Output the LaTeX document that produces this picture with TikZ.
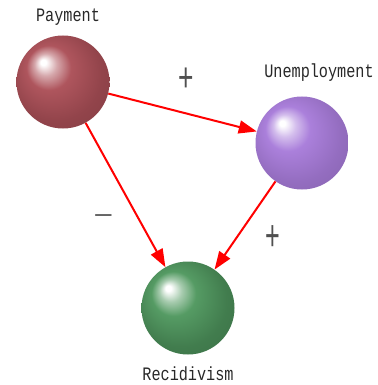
\documentclass[tikz,border=0pt]{standalone}
\usepackage{fontspec}
\setmainfont{Liberation Sans}
\newfontfamily\labfont[FakeStretch=0.8]{Liberation Mono}
\usetikzlibrary{arrows.meta}
\definecolor{paycol}{RGB}{172,80,88}
\definecolor{unecol}{RGB}{168,124,218}
\definecolor{reccol}{RGB}{80,152,95}
\definecolor{txtcol}{RGB}{40,40,40}
\definecolor{signcol}{RGB}{80,80,80}
\pgfdeclareradialshading{payball}{\pgfpoint{-11bp}{11bp}}{color(0bp)=(white); color(1.5bp)=(white); color(6bp)=(paycol!50!white); color(12bp)=(paycol!97!white); color(25bp)=(paycol!85!black); color(40bp)=(paycol!75!black)}
\pgfdeclareradialshading{uneball}{\pgfpoint{-11bp}{11bp}}{color(0bp)=(white); color(1.5bp)=(white); color(6bp)=(unecol!50!white); color(12bp)=(unecol!97!white); color(25bp)=(unecol!88!black); color(40bp)=(unecol!78!black)}
\pgfdeclareradialshading{recball}{\pgfpoint{-11bp}{11bp}}{color(0bp)=(white); color(1.5bp)=(white); color(6bp)=(reccol!50!white); color(12bp)=(reccol!97!white); color(25bp)=(reccol!82!black); color(40bp)=(reccol!72!black)}
\tikzset{
  ball/.style={circle, minimum size=93pt, inner sep=0pt, shading=#1},
  lbl/.style={text=txtcol, font=\labfont\fontsize{19}{20}\selectfont, inner sep=0pt},
  sign/.style={text=signcol, font=\fontsize{24}{26}\selectfont, inner sep=0pt},
  link/.style={draw=red, line width=2pt, -{Triangle[length=18pt,width=13pt]}}
}
\begin{document}
\begin{tikzpicture}[x=1pt,y=-1pt]
\useasboundingbox (0,0) rectangle (377,385);
\node[ball=payball] (pay) at (63,82) {};
\node[ball=uneball] (une) at (302,143) {};
\node[ball=recball] (rec) at (188,308) {};
\node[lbl] (tpay) at (68,17) {Payment};
\node[lbl] (tune) at (319,73) {Unemployment};
\node[lbl] (trec) at (188,374) {Recidivism};
\draw[link] (pay) -- (une);
\draw[link] (pay) -- (rec);
\draw[link] (une) -- (rec);
\node[sign] (s1) at (186,79.5) {\scalebox{1.1}[1.7]{+}};
\node[sign] (s2) at (103.5,219) {\scalebox{1.4}[1]{−}};
\node[sign] (s3) at (272.5,238.5) {\scalebox{1.05}[1.8]{+}};
\end{tikzpicture}
\end{document}
